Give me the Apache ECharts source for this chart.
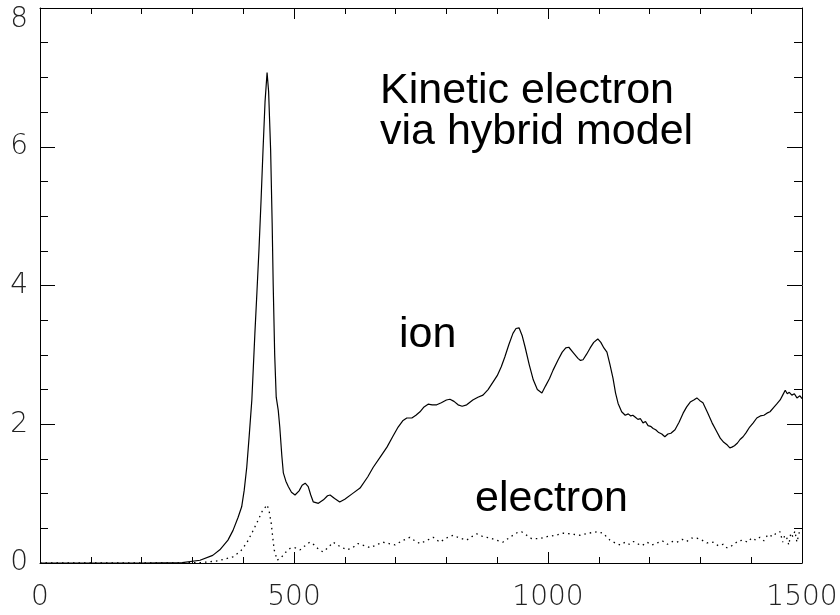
<!DOCTYPE html>
<html>
<head>
<meta charset="utf-8">
<script src="https://cdn.jsdelivr.net/npm/echarts@6/dist/echarts.min.js"></script>
<style>html,body{margin:0;padding:0;background:#fff;}#c{width:840px;height:615px;}</style>
</head>
<body>
<div id="c"></div>
<script>
var xTicks = [0, 500, 1000, 1500];
var yTicks = [0, 2, 4, 6, 8];

var ionX = [0,100,200,280,315,340,354,370,380,390,397,402,407,412,417,423,427,431,435,439,443,447,450,454,457,459,462,465,469,472,476,479,484,489,495,502,510,516,522,528,533,538,548,558,566,571,580,590,600,615,630,645,656,670,683,695,705,714,722,732,740,748,756,764,772,781,790,800,807,815,823,831,840,852,862,872,882,892,900,908,915,923,931,937,943,949,955,963,971,979,988,995,1003,1010,1020,1028,1035,1041,1050,1059,1064,1069,1076,1083,1090,1098,1104,1110,1116,1122,1128,1133,1138,1145,1152,1158,1163,1167,1172,1177,1182,1187,1192,1197,1202,1207,1212,1218,1224,1230,1236,1242,1250,1258,1266,1273,1280,1287,1293,1299,1305,1314,1323,1331,1339,1346,1353,1358,1362,1367,1373,1378,1384,1390,1397,1404,1411,1418,1425,1431,1437,1444,1450,1457,1462,1467,1471,1475,1480,1485,1490,1496,1500];
var ionY = [0,0,0,0.005,0.04,0.11,0.19,0.33,0.47,0.66,0.81,1.05,1.38,1.85,2.35,3.31,3.9,4.51,5.2,5.95,6.65,7.07,6.8,5.95,4.9,4.03,3.0,2.39,2.2,1.96,1.55,1.30,1.18,1.10,1.02,0.98,1.04,1.12,1.15,1.10,0.98,0.88,0.86,0.91,0.97,0.98,0.93,0.88,0.92,1.00,1.08,1.24,1.38,1.53,1.67,1.83,1.96,2.05,2.09,2.09,2.13,2.18,2.25,2.29,2.28,2.28,2.31,2.35,2.36,2.33,2.28,2.26,2.28,2.35,2.39,2.42,2.50,2.61,2.70,2.83,2.97,3.15,3.31,3.38,3.39,3.28,3.11,2.86,2.64,2.50,2.45,2.55,2.66,2.78,2.93,3.04,3.10,3.11,3.03,2.95,2.92,2.93,3.01,3.10,3.18,3.23,3.18,3.10,3.04,2.86,2.66,2.45,2.30,2.18,2.13,2.15,2.12,2.13,2.10,2.07,2.08,2.02,2.04,1.98,1.97,1.94,1.92,1.88,1.86,1.82,1.86,1.87,1.92,2.03,2.16,2.25,2.32,2.35,2.38,2.34,2.31,2.17,2.02,1.91,1.80,1.74,1.70,1.66,1.67,1.69,1.73,1.78,1.82,1.88,1.96,2.02,2.09,2.12,2.13,2.16,2.18,2.24,2.29,2.35,2.42,2.49,2.44,2.46,2.42,2.44,2.38,2.41,2.37];

var eleX = [0,200,315,350,380,395,407,417,427,437,447,451,455,458,461,467,475,483,492,502,512,522,531,540,548,557,567,577,590,604,615,626,638,650,662,675,687,699,713,728,738,748,760,774,787,800,813,826,840,850,860,872,886,898,911,921,931,940,948,958,968,983,998,1015,1030,1045,1063,1080,1096,1108,1122,1132,1142,1152,1160,1168,1175,1185,1195,1205,1215,1225,1235,1245,1254,1264,1273,1283,1293,1303,1313,1325,1335,1345,1352,1358,1366,1375,1384,1393,1401,1409,1417,1425,1433,1443,1450,1457,1462,1466,1470,1474,1478,1482,1486,1490,1495,1500];
var eleY = [0,0,0.005,0.03,0.09,0.17,0.29,0.43,0.58,0.74,0.84,0.75,0.58,0.38,0.19,0.04,0.08,0.15,0.21,0.22,0.19,0.25,0.30,0.26,0.20,0.16,0.22,0.30,0.24,0.19,0.22,0.28,0.25,0.22,0.26,0.30,0.28,0.26,0.32,0.37,0.32,0.28,0.32,0.37,0.30,0.36,0.40,0.36,0.33,0.38,0.42,0.38,0.36,0.33,0.30,0.35,0.40,0.44,0.45,0.40,0.35,0.35,0.38,0.40,0.43,0.42,0.40,0.43,0.45,0.43,0.33,0.29,0.26,0.30,0.27,0.31,0.28,0.25,0.30,0.26,0.29,0.32,0.27,0.31,0.30,0.34,0.31,0.36,0.36,0.33,0.29,0.30,0.25,0.27,0.22,0.23,0.27,0.32,0.33,0.30,0.36,0.33,0.37,0.32,0.41,0.38,0.44,0.45,0.30,0.40,0.36,0.26,0.43,0.38,0.46,0.30,0.45,0.42];

var annoMain = 'Kinetic electron\nvia hybrid model';
var annoIon = 'ion';
var annoElectron = 'electron';

function pairs(xs, ys) { return xs.map(function (x, i) { return [x, ys[i]]; }); }

var labelFont = { fontFamily: 'DejaVu Sans', fontWeight: 200, fontSize: 28, color: '#222' };
var axisLine = { show: true, onZero: false, lineStyle: { color: '#000', width: 1 } };

function xAxisCfg(pos, showLabel) {
  return {
    type: 'value', position: pos, min: xTicks[0], max: xTicks[xTicks.length - 1], interval: 500,
    axisLine: axisLine,
    axisTick: { show: true, inside: true, length: 11, lineStyle: { color: '#000' } },
    minorTick: { show: true, splitNumber: 5, length: 6, lineStyle: { color: '#000' } },
    splitLine: { show: false },
    axisLabel: Object.assign({ show: showLabel, margin: 21, showMinLabel: true, showMaxLabel: true,
      formatter: function (v) { return String(v); } }, labelFont)
  };
}
function yAxisCfg(pos, showLabel) {
  return {
    type: 'value', position: pos, min: yTicks[0], max: yTicks[yTicks.length - 1], interval: 2,
    axisLine: axisLine,
    axisTick: { show: true, inside: true, length: 15, lineStyle: { color: '#000' } },
    minorTick: { show: true, splitNumber: 4, length: 8, lineStyle: { color: '#000' } },
    splitLine: { show: false },
    axisLabel: Object.assign({
      show: showLabel, margin: 12, showMinLabel: true, showMaxLabel: true, lineHeight: 24,
      formatter: function (v) { return v === 8 ? '\n8' : String(v); }
    }, labelFont)
  };
}

var chart = echarts.init(document.getElementById('c'), null, { renderer: 'canvas' });
chart.setOption({
  animation: false,
  backgroundColor: '#fff',
  grid: { left: 40, right: 38, top: 8, bottom: 52, outerBoundsMode: 'none', containLabel: false },
  xAxis: [xAxisCfg('bottom', true), xAxisCfg('top', false)],
  yAxis: [yAxisCfg('left', true), yAxisCfg('right', false)],
  series: [
    { type: 'line', name: 'ion', data: pairs(ionX, ionY), showSymbol: false, symbol: 'none',
      lineStyle: { color: '#000', width: 1.2 }, xAxisIndex: 0, yAxisIndex: 0, z: 3 },
    { type: 'line', name: 'electron', data: pairs(eleX, eleY), showSymbol: false, symbol: 'none',
      lineStyle: { color: '#000', width: 1.3, type: [1.5, 4] }, xAxisIndex: 0, yAxisIndex: 0, z: 3 }
  ],
  graphic: [
    { type: 'text', left: 380, top: 70, style: { text: annoMain, font: '43px "Liberation Sans", Arial, sans-serif', fill: '#000', lineHeight: 41 } },
    { type: 'text', left: 399, top: 314, style: { text: annoIon, font: '43px "Liberation Sans", Arial, sans-serif', fill: '#000' } },
    { type: 'text', left: 475, top: 478, style: { text: annoElectron, font: '43px "Liberation Sans", Arial, sans-serif', fill: '#000' } }
  ]
});
</script>
</body>
</html>
